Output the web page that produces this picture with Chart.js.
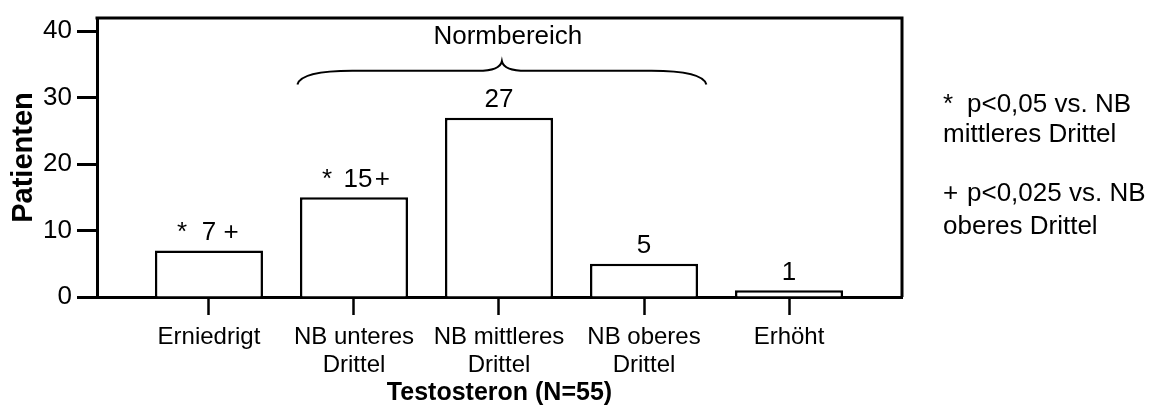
<!DOCTYPE html>
<html>
<head>
<meta charset="utf-8">
<script src="https://cdn.jsdelivr.net/npm/chart.js@4.4.1/dist/chart.umd.min.js"></script>
<style>
  html, body { margin: 0; padding: 0; background: #fff; }
  #wrap { width: 1162px; height: 415px; position: relative; }
</style>
</head>
<body>
<div id="wrap"><canvas id="testoChart"></canvas></div>
<script>
const categories = [
  ["Erniedrigt"],
  ["NB unteres", "Drittel"],
  ["NB mittleres", "Drittel"],
  ["NB oberes", "Drittel"],
  ["Erhöht"],
];
const patients = [7, 15, 27, 5, 1];

// significance markers: * vs NB mittleres, + vs NB oberes
const starMark = [true, true, false, false, false];
const plusMark = [true, true, false, false, false];

const yTicks = [0, 10, 20, 30, 40];
const yMax = 42;

// bracket over the normal range
const braceFrom = 0.61;
const braceTo = 3.43;
const braceMid = 2.02;
const braceLabel = "Normbereich";

const notes = [
  ["*", "p<0,05 vs. NB"],
  ["", "mittleres Drittel"],
  ["+", "p<0,025 vs. NB"],
  ["", "oberes Drittel"],
];

const FONT = '"Liberation Sans", Arial, Helvetica, sans-serif';

document.addEventListener("DOMContentLoaded", () => {
  const ctx = document.getElementById("testoChart").getContext("2d");

  const extras = {
    id: "extras",
    afterDatasetsDraw(chart) {
      const c = chart.ctx;
      const { left, right, top, bottom } = chart.chartArea;
      const xs = chart.scales.x;
      const ys = chart.scales.y;

      c.save();
      // top + right frame
      c.strokeStyle = "#000";
      c.lineWidth = 3;
      c.beginPath();
      c.moveTo(left - 1.5, top);
      c.lineTo(right, top);
      c.lineTo(right, bottom);
      c.stroke();

      // value labels with markers
      c.fillStyle = "#000";
      c.font = "26px " + FONT;
      c.textBaseline = "middle";
      c.textAlign = "center";
      const meta = chart.getDatasetMeta(0);
      meta.data.forEach((bar, i) => {
        const txt = String(patients[i]);
        const w = c.measureText(txt).width;
        const y = bar.y - 18;
        const cx = bar.x + (txt.length > 1 && plusMark[i] ? 4 : 0);
        c.fillText(txt, cx, y);
        if (starMark[i]) c.fillText("*", bar.x - 27, y);
        if (plusMark[i]) c.fillText("+", cx + w / 2 + (txt.length > 1 ? 10 : 15), y);
      });

      // brace
      const L = xs.getPixelForValue(braceFrom);
      const R = xs.getPixelForValue(braceTo);
      const M = xs.getPixelForValue(braceMid);
      const yEnd = ys.getPixelForValue(32.0);
      const yFlat = ys.getPixelForValue(34.05);
      const yPeak = ys.getPixelForValue(35.5);
      c.lineWidth = 2;
      c.beginPath();
      c.moveTo(L, yEnd);
      c.quadraticCurveTo(L + 4, yFlat, L + 55, yFlat);
      c.lineTo(M - 24, yFlat);
      c.quadraticCurveTo(M - 2, yFlat, M, yPeak);
      c.quadraticCurveTo(M + 2, yFlat, M + 24, yFlat);
      c.lineTo(R - 55, yFlat);
      c.quadraticCurveTo(R - 4, yFlat, R, yEnd);
      c.stroke();
      c.fillText(braceLabel, M + 6, ys.getPixelForValue(39.1));

      // side notes
      c.textAlign = "left";
      const noteY = [105, 135, 194, 227];
      notes.forEach((n, i) => {
        if (n[0]) c.fillText(n[0], 943, noteY[i]);
        c.fillText(n[1], n[0] ? 967 : 943, noteY[i]);
      });
      c.restore();
    },
  };

  new Chart(ctx, {
    type: "bar",
    data: {
      datasets: [
        {
          label: "Patienten",
          data: patients.map((v, i) => ({ x: i, y: v })),
          backgroundColor: "#fff",
          borderColor: "#000",
          borderWidth: 2.5,
          barPercentage: 0.745,
          categoryPercentage: 1,
        },
      ],
    },
    plugins: [extras],
    options: {
      responsive: true,
      maintainAspectRatio: false,
      animation: false,
      devicePixelRatio: 1,
      layout: { padding: { left: 0, right: 260, top: 14, bottom: 0 } },
      plugins: {
        legend: { display: false },
        tooltip: { enabled: false },
      },
      scales: {
        x: {
          type: "linear",
          min: -0.772,
          max: 4.779,
          offset: false,
          afterFit: (s) => { s.height = 118; },
          border: { display: true, color: "#000", width: 3 },
          grid: {
            offset: false,
            drawOnChartArea: false,
            drawTicks: true,
            tickLength: 18,
            tickWidth: 2.5,
            tickColor: "#000",
          },
          ticks: {
            stepSize: 1,
            includeBounds: false,
            autoSkip: false,
            maxRotation: 0,
            padding: 8,
            color: "#000",
            font: { family: FONT, size: 24, lineHeight: 1.17 },
            callback: (v) => (Number.isInteger(v) && categories[v] ? categories[v] : ""),
          },
          title: {
            display: true,
            text: "Testosteron (N=55)",
            color: "#000",
            font: { family: FONT, size: 25, weight: "bold", lineHeight: 1.2 },
            padding: { top: 0, bottom: 7 },
          },
        },
        y: {
          min: 0,
          max: yMax,
          afterFit: (s) => { s.width = 97; },
          border: { display: true, color: "#000", width: 3 },
          grid: {
            drawOnChartArea: false,
            drawTicks: true,
            tickLength: 20,
            tickWidth: 3,
            tickColor: "#000",
          },
          ticks: {
            stepSize: 10,
            includeBounds: false,
            padding: 5,
            color: "#000",
            font: { family: FONT, size: 26, lineHeight: 1 },
            callback: (v) => (yTicks.includes(v) ? v : ""),
          },
          title: {
            display: true,
            text: "Patienten",
            color: "#000",
            font: { family: FONT, size: 29, weight: "bold", lineHeight: 1.2 },
            padding: { top: 7, bottom: 0 },
          },
        },
      },
    },
  });
});
</script>
</body>
</html>
